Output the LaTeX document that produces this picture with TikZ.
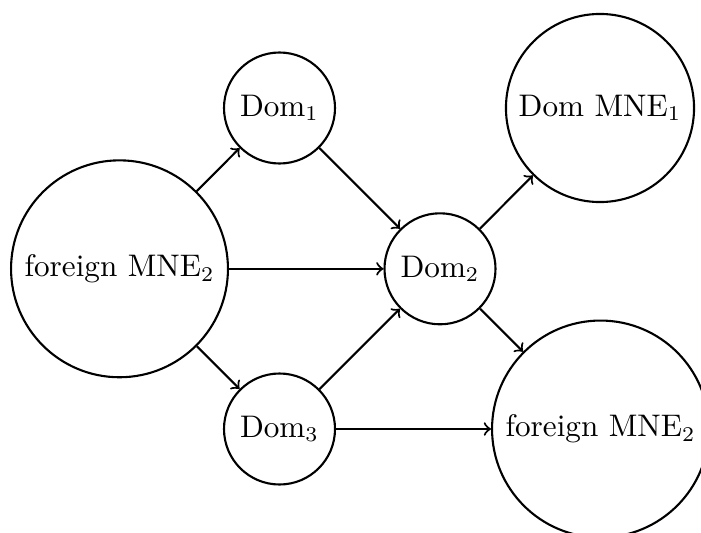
\documentclass[tikz,border=0pt]{standalone}
\begin{document}
\begin{tikzpicture}[x=0.33333pt,y=-0.33333pt,
  nd/.style={circle,draw,line width=0.7pt,inner sep=0pt,font=\fontsize{10.4}{12.5}\selectfont},
  small/.style={nd,minimum size=37pt},
  big/.style={nd,minimum size=72.3pt},
  mid/.style={nd,minimum size=62.7pt},
  arr/.style={->,line width=0.7pt}]
\useasboundingbox (0,0) rectangle (701,533);
\node[big] (f1) at (119.5,268.8) {foreign MNE$_2$};
\node[small] (d1) at (279.5,108) {Dom$_1$};
\node[small] (d2) at (440,268.8) {Dom$_2$};
\node[small] (d3) at (279.5,429) {Dom$_3$};
\node[mid] (m1) at (600,108) {Dom MNE$_1$};
\node[big] (f2) at (600.5,429) {foreign MNE$_2$};
\draw[arr] (f1) -- (d1);
\draw[arr] (f1) -- (d2);
\draw[arr] (f1) -- (d3);
\draw[arr] (d1) -- (d2);
\draw[arr] (d3) -- (d2);
\draw[arr] (d3) -- (f2);
\draw[arr] (d2) -- (m1);
\draw[arr] (d2) -- (f2);
\end{tikzpicture}
\end{document}
